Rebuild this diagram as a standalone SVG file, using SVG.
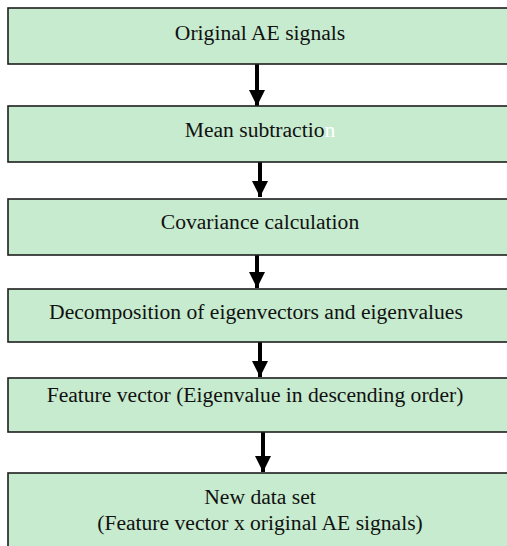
<svg xmlns="http://www.w3.org/2000/svg" width="507" height="546" viewBox="0 0 507 546">
<style>
.box{fill:#c6ebce;stroke:#1e1e1e;stroke-width:1.6}
.t{font-family:"Liberation Serif","Times New Roman",serif;font-size:21.6px;fill:#111;text-anchor:middle}
.c{stroke:#000;stroke-width:4;fill:none}
</style>
<defs>
<marker id="ah" markerUnits="userSpaceOnUse" markerWidth="16" markerHeight="17" refX="16" refY="8" orient="auto" viewBox="0 0 16 16">
<path d="M0,0 L16,8 L0,16 Z" fill="#000"/>
</marker>
</defs>
<rect x="0" y="0" width="507" height="546" fill="#ffffff"/>
<g id="connectors">
<line class="c" x1="257" y1="64" x2="257" y2="106" marker-end="url(#ah)"/>
<line class="c" x1="260" y1="162" x2="260" y2="197" marker-end="url(#ah)"/>
<line class="c" x1="257" y1="255" x2="257" y2="288" marker-end="url(#ah)"/>
<line class="c" x1="260" y1="342" x2="260" y2="377" marker-end="url(#ah)"/>
<line class="c" x1="263" y1="432" x2="263" y2="472" marker-end="url(#ah)"/>
</g>
<g id="n1"><rect class="box" x="8" y="8" width="505" height="56"/><text class="t" x="260" y="40">Original AE signals</text></g>
<g id="n2"><rect class="box" x="8" y="106" width="505" height="56"/><text class="t" x="260" y="137">Mean subtractio<tspan fill="#ffffff">n</tspan></text></g>
<g id="n3"><rect class="box" x="8" y="199" width="505" height="56"/><text class="t" x="260" y="229">Covariance calculation</text></g>
<g id="n4"><rect class="box" x="8" y="289" width="505" height="53"/><text class="t" x="256" y="319">Decomposition of eigenvectors and eigenvalues</text></g>
<g id="n5"><rect class="box" x="8" y="378" width="505" height="54"/><text class="t" x="255" y="402">Feature vector (Eigenvalue in descending order)</text></g>
<g id="n6"><rect class="box" x="8" y="473" width="505" height="80"/><text class="t" x="260" y="504">New data set</text><text class="t" x="260" y="530">(Feature vector x original AE signals)</text></g>
</svg>
